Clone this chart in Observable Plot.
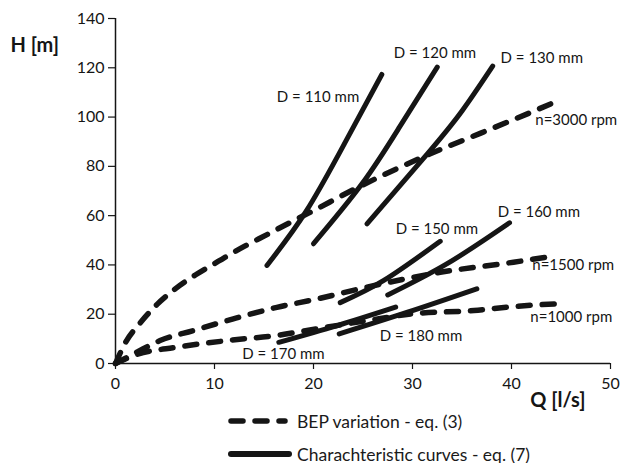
<!DOCTYPE html>
<html>
<head>
<meta charset="utf-8">
<script src="https://cdn.jsdelivr.net/npm/d3@7"></script>
<script src="https://cdn.jsdelivr.net/npm/@observablehq/plot@0.6"></script>
<style>
  body { margin: 0; background: #fff; font-family: Lato, sans-serif; }
  #wrap { position: relative; width: 624px; height: 463px; }
  .leg { position: absolute; left: 228px; display: flex; align-items: center; font-size: 17.5px; color: #1a1a1a; }
  .leg svg { display: block; }
</style>
</head>
<body>
<div id="wrap"></div>
<script>
// BEP variation curves (dashed)
const Q_n3000 = [0, 1, 2.5, 4.2, 6.1, 8.1, 10.4, 13, 15.3, 17.3, 19.4, 24.9, 31.8, 36.9, 42.3, 44.1];
const H_n3000 = [0, 8.5, 16.5, 24, 30.5, 36, 41.5, 47.5, 52.3, 56.5, 60.8, 72.3, 85.1, 93.5, 102.5, 105.6];
const Q_n1500 = [0, 2.2, 4.5, 7.9, 11.9, 16.3, 20.4, 25.4, 32.8, 40.2, 43.9];
const H_n1500 = [0, 4.7, 9.3, 13.4, 18.1, 22.8, 26.2, 31, 37, 41.1, 43.4];
const Q_n1000 = [0, 2.2, 6.2, 11.3, 16.3, 20.4, 25.4, 30.1, 36.2, 40.2, 44.8];
const H_n1000 = [0, 3.7, 6.6, 9.3, 11.4, 14.1, 17.4, 20.2, 21.5, 23.1, 24.3];

// Characteristic curves (solid)
const Q_D110 = [15.3, 19.2, 23.1, 26.9];
const H_D110 = [39.8, 61.4, 89, 117.3];
const Q_D120 = [20, 24.9, 28.7, 32.5];
const H_D120 = [48.6, 72.9, 96, 120.3];
const Q_D130 = [25.4, 31.5, 35, 38.1];
const H_D130 = [56.7, 85.1, 102.5, 120.7];
const Q_D150 = [22.7, 27.1, 32.8];
const H_D150 = [24.7, 33.7, 49.6];
const Q_D160 = [27.5, 33.5, 39.8];
const H_D160 = [27.8, 40.5, 57.1];
const Q_D170 = [16.5, 22.4, 28.3];
const H_D170 = [8.6, 15.4, 22.9];
const Q_D180 = [22.6, 29.5, 36.5];
const H_D180 = [12, 20.8, 30.3];

// Curve labels (anchor in data units)
const labelText = ["D = 110 mm", "D = 120 mm", "D = 130 mm", "n=3000 rpm", "D = 150 mm", "D = 160 mm", "n=1500 rpm", "n=1000 rpm", "D = 180 mm", "D = 170 mm"];
const labelQ = [16.3, 28.1, 38.9, 42.4, 28.3, 38.6, 42.1, 41.9, 26.7, 12.8];
const labelH = [108.1, 126, 123.9, 98.6, 54.4, 61.4, 39.8, 18.8, 11, 3.9];

const xTicks = [0, 10, 20, 30, 40, 50];
const yTicks = [0, 20, 40, 60, 80, 100, 120, 140];

const dashedSeries = [
  ["n3000", Q_n3000, H_n3000],
  ["n1500", Q_n1500, H_n1500],
  ["n1000", Q_n1000, H_n1000]
];
const solidSeries = [
  ["D110", Q_D110, H_D110],
  ["D120", Q_D120, H_D120],
  ["D130", Q_D130, H_D130],
  ["D150", Q_D150, H_D150],
  ["D160", Q_D160, H_D160],
  ["D170", Q_D170, H_D170],
  ["D180", Q_D180, H_D180]
];
const toRows = (list) => list.flatMap(([name, qs, hs]) => qs.map((q, i) => ({name, Q: q, H: hs[i]})));
const dashedRows = toRows(dashedSeries);
const solidRows = toRows(solidSeries);
const labelRows = labelText.map((t, i) => ({t, Q: labelQ[i], H: labelH[i]}));

const ink = "#151515";

const chart = Plot.plot({
  width: 624,
  height: 408,
  marginLeft: 115,
  marginRight: 14,
  marginTop: 18,
  marginBottom: 45,
  style: {fontFamily: "Lato, sans-serif", background: "white", color: ink, overflow: "visible"},
  x: {domain: [0, 50]},
  y: {domain: [0, 140]},
  marks: [
    Plot.axisY({ticks: yTicks, tickSize: 7, tickPadding: 4, fontSize: 16, label: null, stroke: ink, strokeWidth: 1.2}),
    Plot.axisX({ticks: xTicks, tickSize: 6, tickPadding: 8, fontSize: 16, label: null, stroke: ink, strokeWidth: 1.2}),
    Plot.ruleX([0], {stroke: ink, strokeWidth: 1.5}),
    Plot.ruleY([0], {stroke: ink, strokeWidth: 1.5}),
    Plot.line(dashedRows, {x: "Q", y: "H", z: "name", curve: "monotone-x", stroke: ink, strokeWidth: 5.5, strokeDasharray: "12,12", strokeLinecap: "round"}),
    Plot.line(solidRows, {x: "Q", y: "H", z: "name", curve: "natural", stroke: ink, strokeWidth: 5, strokeLinecap: "round"}),
    Plot.text(labelRows, {x: "Q", y: "H", text: "t", textAnchor: "start", lineAnchor: "middle", fontSize: 15, fill: ink}),
    Plot.text(["H [m]"], {frameAnchor: "top-left", dx: -105, dy: 27, textAnchor: "start", lineAnchor: "middle", fontSize: 20, fontWeight: "bold", fill: ink}),
    Plot.text(["Q [l/s]"], {frameAnchor: "bottom-right", dx: -25, dy: 37, textAnchor: "end", lineAnchor: "middle", fontSize: 20, fontWeight: "bold", fill: ink})
  ]
});

const wrap = document.getElementById("wrap");
wrap.appendChild(chart);

const legendItems = [
  {text: "BEP variation - eq. (3)", dash: "12,12", top: 409},
  {text: "Charachteristic curves - eq. (7)", dash: null, top: 442}
];
for (const item of legendItems) {
  const row = document.createElement("div");
  row.className = "leg";
  row.style.top = item.top + "px";
  const s = d3.create("svg").attr("width", 69).attr("height", 24);
  s.append("line").attr("x1", 3).attr("x2", item.dash ? 57 : 61).attr("y1", 12).attr("y2", 12)
    .attr("stroke", ink).attr("stroke-width", item.dash ? 5.5 : 6)
    .attr("stroke-linecap", "round")
    .attr("stroke-dasharray", item.dash);
  row.appendChild(s.node());
  const span = document.createElement("span");
  span.textContent = item.text;
  row.appendChild(span);
  wrap.appendChild(row);
}
</script>
</body>
</html>
